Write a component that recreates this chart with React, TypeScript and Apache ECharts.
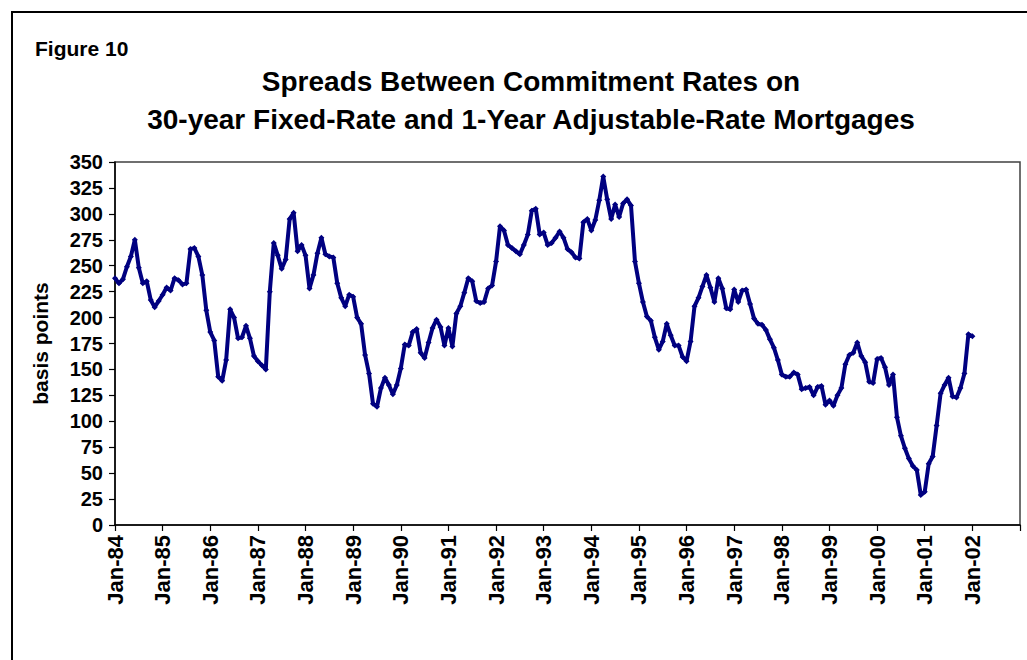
import React, { useEffect, useRef } from "react";
import * as echarts from "echarts";

// Monthly spread (basis points), 30-yr fixed minus 1-yr ARM commitment rate
const spread1984 = [238, 233, 237, 249, 259, 275, 248, 233, 235, 217, 210, 216];
const spread1985 = [222, 229, 226, 238, 236, 232, 233, 266, 267, 259, 241, 207];
const spread1986 = [186, 178, 143, 139, 159, 208, 200, 180, 181, 192, 180, 163];
const spread1987 = [158, 154, 150, 225, 272, 260, 247, 256, 295, 301, 264, 270];
const spread1988 = [260, 228, 241, 262, 277, 261, 259, 258, 233, 219, 211, 222];
const spread1989 = [220, 200, 194, 164, 146, 117, 114, 132, 142, 135, 126, 135];
const spread1990 = [151, 174, 173, 186, 189, 166, 161, 176, 190, 198, 191, 173];
const spread1991 = [190, 172, 204, 211, 224, 238, 235, 216, 214, 215, 228, 231];
const spread1992 = [254, 288, 284, 270, 267, 264, 261, 270, 280, 303, 305, 280];
const spread1993 = [282, 270, 272, 277, 283, 277, 266, 263, 258, 257, 292, 295];
const spread1994 = [284, 294, 313, 336, 314, 295, 309, 297, 310, 314, 308, 254];
const spread1995 = [233, 215, 201, 197, 181, 169, 177, 194, 183, 173, 173, 162];
const spread1996 = [158, 177, 211, 219, 230, 241, 229, 215, 238, 228, 209, 208];
const spread1997 = [227, 215, 226, 227, 213, 199, 194, 193, 188, 179, 171, 159];
const spread1998 = [145, 143, 143, 147, 145, 131, 132, 133, 125, 133, 134, 116];
const spread1999 = [120, 115, 125, 132, 155, 164, 166, 176, 163, 157, 138, 137];
const spread2000 = [160, 161, 152, 135, 145, 104, 86, 74, 64, 57, 53, 29];
const spread2001 = [32, 59, 66, 96, 127, 135, 142, 124, 123, 132, 146, 184];
const spread2002 = [182];

const monthNames = ["Jan", "Feb", "Mar", "Apr", "May", "Jun", "Jul", "Aug", "Sep", "Oct", "Nov", "Dec"];
const yearLabels = ["84", "85", "86", "87", "88", "89", "90", "91", "92", "93", "94", "95", "96", "97", "98", "99", "00", "01", "02", "03"];

const yTicks = { min: 0, max: 350, interval: 25 };

const titleLines = [
  "Spreads Between Commitment Rates on",
  "30-year Fixed-Rate and 1-Year Adjustable-Rate Mortgages",
];

const FONT = "'Liberation Sans', Arial, Helvetica, sans-serif";

export default function App() {
  const ref = useRef<HTMLDivElement | null>(null);

  useEffect(() => {
    if (!ref.current) return;
    const chart = echarts.init(ref.current, undefined, { renderer: "svg" });

    const values = [
      ...spread1984, ...spread1985, ...spread1986, ...spread1987, ...spread1988,
      ...spread1989, ...spread1990, ...spread1991, ...spread1992, ...spread1993,
      ...spread1994, ...spread1995, ...spread1996, ...spread1997, ...spread1998,
      ...spread1999, ...spread2000, ...spread2001, ...spread2002,
    ];

    const categories: string[] = [];
    for (let y = 0; y < yearLabels.length; y++) {
      for (let m = 0; m < 12; m++) {
        categories.push(monthNames[m] + "-" + yearLabels[y]);
        if (y === yearLabels.length - 1) break;
      }
    }

    chart.setOption({
      animation: false,
      backgroundColor: "#ffffff",
      textStyle: { fontFamily: FONT },
      title: {
        text: titleLines.join("\n"),
        left: 526,
        top: 57,
        textAlign: "center",
        textStyle: {
          fontFamily: FONT,
          fontWeight: "bold",
          fontSize: 28,
          lineHeight: 38,
          color: "#000",
        },
      },
      graphic: [
        {
          type: "rect",
          shape: { x: 12, y: 12, width: 1040, height: 680 },
          style: { fill: "none", stroke: "#000", lineWidth: 2 },
          silent: true,
        },
        {
          type: "text",
          left: 35,
          top: 38,
          style: {
            text: "Figure 10",
            fontFamily: FONT,
            fontWeight: "bold",
            fontSize: 21,
            fill: "#000",
          },
        },
      ],
      grid: {
        left: 115,
        top: 162,
        width: 905,
        height: 363,
        show: true,
        borderColor: "#404040",
        borderWidth: 1.5,
        containLabel: false,
      },
      xAxis: {
        type: "category",
        data: categories,
        boundaryGap: false,
        axisLine: { show: true, lineStyle: { color: "#000", width: 1.5 } },
        axisTick: { show: true, interval: 11, length: 6, lineStyle: { color: "#000", width: 1.2 } },
        axisLabel: {
          interval: 11,
          rotate: 90,
          margin: 10,
          fontFamily: FONT,
          fontWeight: "bold",
          fontSize: 22,
          color: "#000",
          formatter: (v: string) => (v === "Jan-03" ? "" : v),
        },
        splitLine: { show: false },
      },
      yAxis: {
        type: "value",
        min: yTicks.min,
        max: yTicks.max,
        interval: yTicks.interval,
        name: "basis points",
        nameLocation: "middle",
        nameRotate: 90,
        nameGap: 64,
        nameTextStyle: { fontFamily: FONT, fontWeight: "bold", fontSize: 21, color: "#000" },
        axisLine: { show: true, lineStyle: { color: "#000", width: 1.5 } },
        axisTick: { show: true, length: 6, lineStyle: { color: "#000", width: 1.2 } },
        axisLabel: {
          margin: 12,
          fontFamily: FONT,
          fontWeight: "bold",
          fontSize: 20,
          color: "#000",
        },
        splitLine: { show: false },
      },
      series: [
        {
          type: "line",
          data: values,
          symbol: "diamond",
          symbolSize: 6,
          showSymbol: true,
          showAllSymbol: true,
          lineStyle: { color: "#000080", width: 4 },
          itemStyle: { color: "#000080" },
          z: 3,
        },
      ],
    });

    return () => chart.dispose();
  }, []);

  return (
    <div
      ref={ref}
      style={{ position: "absolute", left: 0, top: 0, width: 1027, height: 660, background: "#fff" }}
    />
  );
}
